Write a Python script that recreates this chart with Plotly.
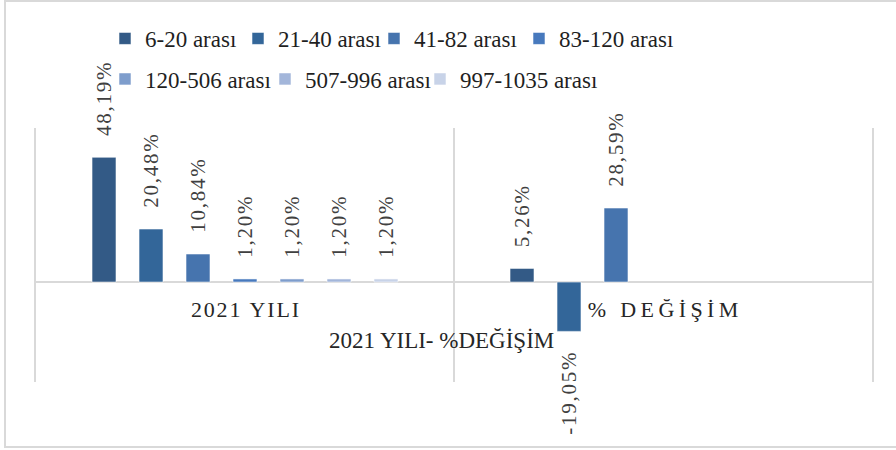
import plotly.graph_objects as go

# Categories (x axis) and series
categories = ["2021 YILI", "% DEĞİŞİM"]
series_names = ["6-20 arası", "21-40 arası", "41-82 arası", "83-120 arası",
                "120-506 arası", "507-996 arası", "997-1035 arası"]
v_6_20 = [48.19, 5.26]
v_21_40 = [20.48, -19.05]
v_41_82 = [10.84, 28.59]
v_83_120 = [1.20, None]
v_120_506 = [1.20, None]
v_507_996 = [1.20, None]
v_997_1035 = [1.20, None]
series_values = [v_6_20, v_21_40, v_41_82, v_83_120, v_120_506, v_507_996, v_997_1035]

colors = ["#335A86", "#336699", "#4674AE", "#4779BD", "#7E9DCC", "#A3B6DA", "#C8D3E8"]
legend_groups = ["legend", "legend", "legend", "legend", "legend2", "legend2", "legend2"]
legend_widths = [88, 91, 100, 160, 115, 110, 200]

FONT = "Liberation Serif"
THIN = "\u2009"
HAIR = "\u200a"
PAD = "\u2002\u2009\u200a\u200a"
tick_tracking = [HAIR, THIN]

W, H = 896, 450
ML, MR, MT, MB = 36, 24, 128, 68
PW, PH = W - ML - MR, H - MT - MB
Y_MIN, Y_MAX = -38.6, 59.5


def tracked(s, sep):
    return sep.join(s)


def label(v):
    if v is None:
        return ""
    s = tracked(f"{v:.2f}".replace(".", ",") + "%", HAIR)
    return PAD + s if v >= 0 else s + PAD


def px_x(p):
    return (p - ML) / PW


def px_y(p):
    return (H - MB - p) / PH


fig = go.Figure()
for name, vals, col, lg, lw in zip(series_names, series_values, colors,
                                    legend_groups, legend_widths):
    fig.add_trace(go.Bar(
        name=name, x=categories, y=vals,
        marker=dict(color=col, line=dict(color="rgba(255,255,255,0.7)", width=0.8)),
        text=[label(v) for v in vals],
        textposition="outside", textangle=-90, constraintext="none",
        cliponaxis=False,
        textfont=dict(family=FONT, size=21, color="#404040"),
        legend=lg, legendwidth=lw,
        hoverinfo="skip",
    ))

zero_frac = (0 - Y_MIN) / (Y_MAX - Y_MIN)
legend_font = dict(family=FONT, size=23, color="#1F1F1F")

fig.update_layout(
    width=W, height=H,
    margin=dict(l=ML, r=MR, t=MT, b=MB),
    paper_bgcolor="white", plot_bgcolor="white",
    barmode="group", bargap=0.213, bargroupgap=0.49,
    font=dict(family=FONT, color="#262626"),
    xaxis=dict(
        type="category", range=[-0.5, 1.5],
        tickson="boundaries", showgrid=True, gridcolor="#D9D9D9", gridwidth=2,
        tickvals=categories,
        ticktext=[tracked(c, sep) for c, sep in zip(categories, tick_tracking)],
        tickfont=dict(family=FONT, size=22, color="#262626"),
        ticks="", showline=False, zeroline=False,
        anchor="free", position=zero_frac, ticklabelstandoff=12,
    ),
    yaxis=dict(
        range=[Y_MIN, Y_MAX], showgrid=False, showticklabels=False, ticks="",
        zeroline=True, zerolinecolor="#D9D9D9", zerolinewidth=2,
        showline=True, mirror=True, linecolor="#D9D9D9", linewidth=2,
    ),
    legend=dict(
        orientation="h", x=px_x(105), xanchor="left", y=px_y(17), yanchor="top",
        font=legend_font, bgcolor="rgba(0,0,0,0)",
        itemclick=False, itemdoubleclick=False,
    ),
    legend2=dict(
        orientation="h", x=px_x(105), xanchor="left", y=px_y(57.5), yanchor="top",
        font=legend_font, bgcolor="rgba(0,0,0,0)",
        itemclick=False, itemdoubleclick=False,
    ),
    annotations=[dict(
        text="2021 YILI- %DEĞİŞİM", xref="paper", yref="paper",
        x=px_x(441), y=px_y(340), xanchor="center", yanchor="middle",
        showarrow=False, font=dict(family=FONT, size=23, color="#262626"),
    )],
    shapes=[dict(
        type="rect", xref="paper", yref="paper",
        x0=px_x(5), x1=px_x(900), y0=px_y(447), y1=px_y(1),
        line=dict(color="#D9D9D9", width=2), fillcolor="rgba(0,0,0,0)", layer="below",
    )],
    showlegend=True,
)

fig.write_html("out.html")
